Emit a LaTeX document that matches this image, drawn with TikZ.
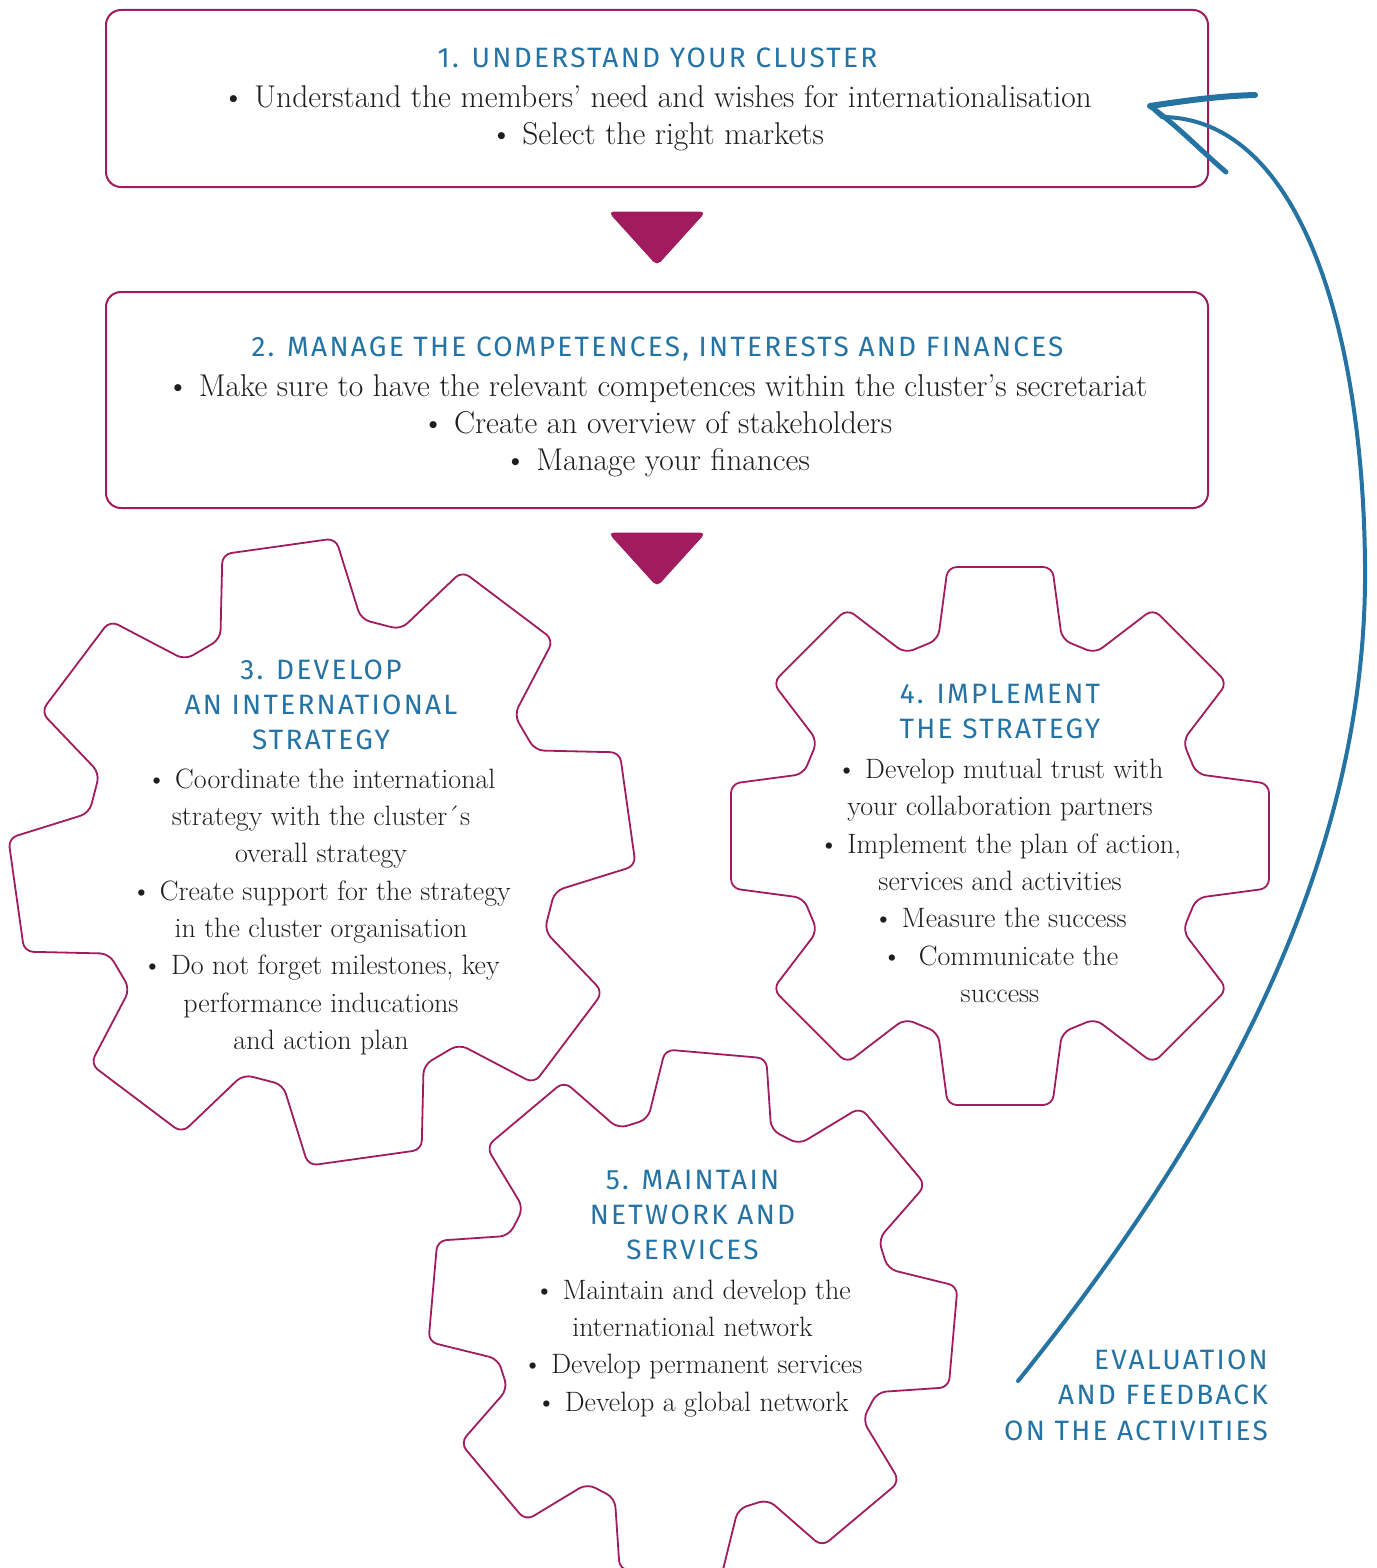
\documentclass[tikz,border=0pt]{standalone}
\usepackage{fontspec}
\newfontfamily\headfont{Fira Sans}[LetterSpace=8]
\definecolor{mag}{RGB}{160,28,94}
\definecolor{hblue}{RGB}{36,115,165}
\definecolor{ablue}{RGB}{36,115,162}
\definecolor{txt}{RGB}{30,30,30}
\tikzset{
  box/.style={draw=mag, line width=2pt, rounded corners=15pt, fill=white, inner sep=0pt},
  gearline/.style={draw=mag, line width=1.8pt, fill=white, rounded corners=9pt, line join=round},
  tri/.style={fill=mag, draw=mag, line width=1pt, rounded corners=5pt},
  head/.style={font=\headfont\fontsize{28}{35}\selectfont, text=hblue, inner sep=0pt, anchor=base},
  body/.style={font=\fontsize{28}{37}\selectfont, text=txt, inner sep=0pt, anchor=base},
  boxbody/.style={body, font=\fontsize{31.5}{37}\selectfont},
  evalt/.style={head, anchor=base east},
  fb/.style={draw=ablue, line width=4pt, line cap=round},
  barb/.style={draw=ablue, line width=6pt, line cap=round},
}
% cx cy Rout Rbase phase(tikz angle) tip-half-angle base-half-angle
\newcommand\gearshape[7]{%
  \draw[gearline] ([shift={(#1,#2)}]{#5-#6}:#3) -- ([shift={(#1,#2)}]{#5+#6}:#3)
    -- ([shift={(#1,#2)}]{#5+#7}:#4)
    \foreach \k in {1,...,7}{
      -- ([shift={(#1,#2)}]{#5+45*\k-#7}:#4)
      -- ([shift={(#1,#2)}]{#5+45*\k-#6}:#3)
      -- ([shift={(#1,#2)}]{#5+45*\k+#6}:#3)
      -- ([shift={(#1,#2)}]{#5+45*\k+#7}:#4)
    }
    -- ([shift={(#1,#2)}]{#5+360-#7}:#4) -- cycle;
}
\begin{document}
\begin{tikzpicture}[x=1pt,y=-1pt]
\useasboundingbox[fill=white] (0,0) rectangle (1376,1568);

% boxes
\node[box, minimum width=1102pt, minimum height=177pt] (b1) at (657,98.5) {};
\node[box, minimum width=1102pt, minimum height=216pt] (b2) at (657,400) {};

% triangles
\fill[tri] (609,212) -- (705,212) -- (657,265) -- cycle;
\fill[tri] (609,533) -- (705,533) -- (657,586) -- cycle;

% gears
\gearshape{322}{852}{314}{236}{-98}{10.5}{17.5}
\gearshape{1000}{836}{274}{206}{-90}{11}{17.5}
\gearshape{693}{1314}{266}{200}{5}{11}{18}

% box 1 text
\node[head] (h1) at (657.5,68) {1. UNDERSTAND YOUR CLUSTER};
\node[boxbody] (t1a) at (657,107.5) {• Understand the members’ need and wishes for internationalisation};
\node[boxbody] (t1b) at (657,145) {• Select the right markets};

% box 2 text
\node[head] (h2) at (657.5,356) {2. MANAGE THE COMPETENCES, INTERESTS AND FINANCES};
\foreach \yy/\lbl [count=\i] in {396/{• Make sure to have the relevant competences within the cluster’s secretariat},
  433/{• Create an overview of stakeholders}, 470/{• Manage your finances}}
  \node[boxbody] (t2-\i) at (657,\yy) {\lbl};

% gear 3 text
\foreach \yy/\lbl [count=\i] in {679/{3. DEVELOP}, 714/{AN INTERNATIONAL}, 749/{STRATEGY}}
  \node[head] (h3-\i) at (321,\yy) {\lbl};
\foreach \yy/\lbl [count=\i] in {788/{• Coordinate the international}, 825/{strategy with the cluster´s},
  862/{overall strategy}, 900/{• Create support for the strategy}, 937/{in the cluster organisation},
  974/{• Do not forget milestones, key}, 1012/{performance inducations}, 1049/{and action plan}}
  \node[body] (t3-\i) at (321,\yy) {\lbl};

% gear 4 text
\foreach \yy/\lbl [count=\i] in {703/{4. IMPLEMENT}, 738/{THE STRATEGY}}
  \node[head] (h4-\i) at (1000,\yy) {\lbl};
\foreach \yy/\lbl [count=\i] in {778/{• Develop mutual trust with}, 815/{your collaboration partners},
  853/{• Implement the plan of action,}, 890/{services and activities}, 927/{• Measure the success},
  965/{•\ \ Communicate the}, 1002/{success}}
  \node[body] (t4-\i) at (1000,\yy) {\lbl};

% gear 5 text
\foreach \yy/\lbl [count=\i] in {1189/{5. MAINTAIN}, 1224/{NETWORK AND}, 1259/{SERVICES}}
  \node[head] (h5-\i) at (692.5,\yy) {\lbl};
\foreach \yy/\lbl [count=\i] in {1299/{• Maintain and develop the}, 1336/{international network},
  1373/{• Develop permanent services}, 1411/{• Develop a global network}}
  \node[body] (t5-\i) at (692.5,\yy) {\lbl};

% feedback arrow
\coordinate (fbS) at (1018,1381);
\coordinate (fbM) at (1365,565);
\coordinate (fbE) at (1162,117);
\coordinate (fbT) at (1150,106);
\coordinate (fbU) at (1255,95);
\coordinate (fbL) at (1226,172);
\draw[fb] (fbS) .. controls (1220,1130) and (1368,860) .. (fbM)
  .. controls (1363,330) and (1300,118) .. (fbE) -- (fbT);
\draw[barb] (fbT) .. controls (1190,100) and (1220,96) .. (fbU);
\draw[barb, line width=5pt] (fbT) .. controls (1180,128) and (1200,150) .. (fbL);

% evaluation label
\node[evalt] (ev1) at (1268,1369) {EVALUATION};
\node[evalt] (ev2) at (1268,1404) {AND FEEDBACK};
\node[evalt] (ev3) at (1268,1440) {ON THE ACTIVITIES};
\end{tikzpicture}
\end{document}
